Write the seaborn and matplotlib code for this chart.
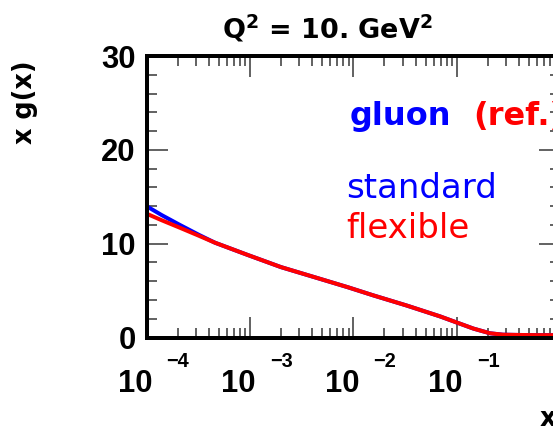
import matplotlib
matplotlib.use("Agg")
import matplotlib.pyplot as plt
import seaborn as sns
import pandas as pd
import numpy as np
from matplotlib.ticker import LogLocator, MultipleLocator
from matplotlib.transforms import blended_transform_factory

# ---- data ----
x_standard = [1e-4, 1.4e-4, 2.1e-4, 3.2e-4, 4.6e-4, 9.5e-4, 2.0e-3, 4.3e-3, 8.9e-3,
              1.55e-2, 3.3e-2, 6.9e-2, 0.1, 0.145, 0.21, 0.28, 0.4, 0.63, 1.0]
xg_standard = [14.0, 13.05, 12.0, 10.95, 10.1, 8.8, 7.5, 6.4, 5.35,
               4.5, 3.4, 2.25, 1.6, 0.95, 0.45, 0.3, 0.27, 0.25, 0.25]
x_flexible = [1e-4, 1.4e-4, 2.1e-4, 3.2e-4, 4.6e-4, 9.5e-4, 2.0e-3, 4.3e-3, 8.9e-3,
              1.55e-2, 3.3e-2, 6.9e-2, 0.1, 0.145, 0.21, 0.28, 0.4, 0.63, 1.0]
xg_flexible = [13.2, 12.5, 11.7, 10.85, 10.1, 8.8, 7.5, 6.4, 5.35,
               4.5, 3.4, 2.25, 1.6, 0.95, 0.45, 0.3, 0.27, 0.25, 0.25]
fit_names = ["standard", "flexible"]
fit_colors = ["#0000ff", "#ff0000"]
xtick_values = [1e-4, 1e-3, 1e-2, 1e-1]
xtick_exponents = ["\u22124", "\u22123", "\u22122", "\u22121"]
ytick_values = [0, 10, 20, 30]

df = pd.DataFrame({
    "x": x_standard + x_flexible,
    "xg": xg_standard + xg_flexible,
    "fit": [fit_names[0]] * len(x_standard) + [fit_names[1]] * len(x_flexible),
})

sns.set_style("ticks")
plt.rcParams["font.family"] = ["DejaVu Sans"]
plt.rcParams["text.color"] = "black"
plt.rcParams["axes.labelcolor"] = "black"
plt.rcParams["xtick.color"] = "black"
plt.rcParams["ytick.color"] = "black"

DPI = 72
fig = plt.figure(figsize=(553 / DPI, 432 / DPI), dpi=DPI)
fig.patch.set_facecolor("white")
L, B, W, H = 146.5, 337.5, 413.6, 281.5
ax = fig.add_axes([L / 553, (432 - B) / 432, W / 553, H / 432])

sns.lineplot(data=df, x="x", y="xg", hue="fit", hue_order=fit_names,
             palette=dict(zip(fit_names, fit_colors)), linewidth=4,
             legend=False, ax=ax, sort=False)

ax.set_xscale("log")
ax.set_xlim(1e-4, 1.0)
ax.set_ylim(0, 30)
ax.xaxis.set_major_locator(LogLocator(base=10, numticks=10))
ax.xaxis.set_minor_locator(LogLocator(base=10, subs=np.arange(2, 10), numticks=20))
ax.set_yticks(ytick_values)
ax.yaxis.set_minor_locator(MultipleLocator(2))

for s in ax.spines.values():
    s.set_linewidth(4)
    s.set_color("black")

ax.tick_params(axis="both", which="major", direction="in", length=21, width=1.5,
               color="#333333", labelcolor="black", top=True, right=True)
ax.tick_params(axis="both", which="minor", direction="in", length=10, width=1.5,
               color="#333333", top=True, right=True)
ax.tick_params(axis="x", which="both", labelbottom=False)
ax.tick_params(axis="y", which="major", pad=11)
for lab in ax.get_yticklabels():
    lab.set_fontfamily("Liberation Sans")
    lab.set_fontweight("bold")
    lab.set_fontsize(31)
    lab.set_color("black")

trans = blended_transform_factory(ax.transData, ax.transAxes)
for xt, ex in zip(xtick_values, xtick_exponents):
    ax.annotate("10", xy=(xt, 0), xycoords=trans, xytext=(6, -54.5),
                textcoords="offset points", ha="right", va="baseline",
                fontsize=31, fontweight="bold", family="Liberation Sans",
                color="black", annotation_clip=False)
    ax.annotate(ex, xy=(xt, 0), xycoords=trans, xytext=(20, -29.5),
                textcoords="offset points", ha="left", va="baseline",
                fontsize=20, fontweight="bold", family="Liberation Sans",
                color="black", annotation_clip=False)

ax.set_xlabel("x", loc="right", fontsize=25.6, fontweight="bold", color="black")
ax.xaxis.set_label_coords(0.99, -0.245)
ax.set_ylabel("x g(x)", loc="top", fontsize=25.6, fontweight="bold", color="black")
ax.yaxis.set_label_coords(-0.262, 0.986)

ax.set_title(r"Q$^{\mathbf{2}}$ = 10. GeV$^{\mathbf{2}}$", x=0.438, pad=17,
             fontsize=27, fontweight="bold", color="black")

ax.text(0.492, 0.755, "gluon", transform=ax.transAxes, color="#0000ff",
        fontsize=32, fontweight="bold", va="baseline", ha="left")
ax.text(0.789, 0.755, "(ref.)", transform=ax.transAxes, color="#ff0000",
        fontsize=32, fontweight="bold", va="baseline", ha="left")
ax.text(0.482, 0.496, "standard", transform=ax.transAxes, color="#0000ff",
        fontsize=34, va="baseline", ha="left")
ax.text(0.482, 0.353, "flexible", transform=ax.transAxes, color="#ff0000",
        fontsize=34, va="baseline", ha="left")

fig.savefig("out.png", dpi=DPI)
